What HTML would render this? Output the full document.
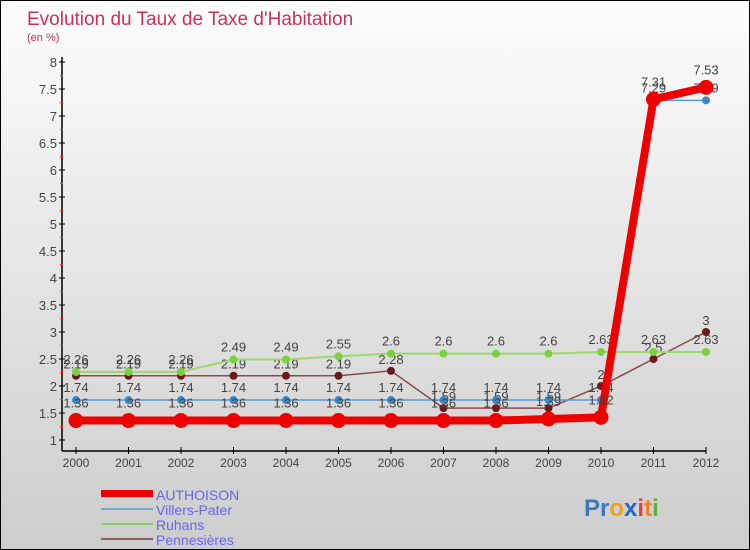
<!DOCTYPE html>
<html><head><meta charset="utf-8"><style>
body{margin:0;}
#wrap{width:750px;height:550px;position:relative;box-sizing:border-box;border:1px solid #000;background:linear-gradient(#fdfdfd,#e2e2e2 55%,#cdcdcd);overflow:hidden;font-family:"Liberation Sans",sans-serif;}
svg text{font-family:"Liberation Sans",sans-serif;}
</style></head><body>
<div id="wrap">
<svg id="c" width="750" height="550">
<text x="26" y="24" font-size="19" fill="#c8325a">Evolution du Taux de Taxe d'Habitation</text>
<text x="26" y="40" font-size="11" fill="#c8325a">(en %)</text>
<g id="axes"></g><g id="series"></g>
<g>
<rect x="100" y="489" width="52" height="7" fill="#ee0000"/>
<text x="155" y="499" font-size="14" fill="#6666ee">AUTHOISON</text>
<line x1="100" y1="508" x2="152" y2="508" stroke="#7aa6cc" stroke-width="2"/>
<text x="155" y="514" font-size="14" fill="#6666ee">Villers-Pater</text>
<line x1="100" y1="523" x2="152" y2="523" stroke="#8ccc66" stroke-width="2"/>
<text x="155" y="529" font-size="14" fill="#6666ee">Ruhans</text>
<line x1="100" y1="538" x2="152" y2="538" stroke="#8a6060" stroke-width="2"/>
<text x="155" y="544" font-size="14" fill="#6666ee">Pennesières</text>
</g>
<text x="583" y="515" font-size="24" font-weight="bold"><tspan fill="#3a7ac0">Pr</tspan><tspan fill="#f0a020">o</tspan><tspan fill="#2266cc">x</tspan><tspan fill="#e04040">i</tspan><tspan fill="#f08020">t</tspan><tspan fill="#60b040">i</tspan></text>
</svg>
<script>
const years=[2000,2001,2002,2003,2004,2005,2006,2007,2008,2009,2010,2011,2012];
const authoison=[1.36,1.36,1.36,1.36,1.36,1.36,1.36,1.36,1.36,1.39,1.42,7.31,7.53];
const villers=[1.74,1.74,1.74,1.74,1.74,1.74,1.74,1.74,1.74,1.74,1.74,7.29,7.29];
const ruhans=[2.26,2.26,2.26,2.49,2.49,2.55,2.6,2.6,2.6,2.6,2.63,2.63,2.63];
const penn=[2.19,2.19,2.19,2.19,2.19,2.19,2.28,1.59,1.59,1.59,2,2.5,3];
const yTicks=[1,1.5,2,2.5,3,3.5,4,4.5,5,5.5,6,6.5,7,7.5,8];
const NS='http://www.w3.org/2000/svg';
function X(i){return 75+i*52.5;}
function Y(v){return 61+(8-v)*54;}
function mk(tag,attrs,parent){const e=document.createElementNS(NS,tag);for(const k in attrs)e.setAttribute(k,attrs[k]);parent.appendChild(e);return e;}
const ax=document.getElementById('axes');
let a=mk('line',{x1:61,y1:56,x2:61,y2:450,stroke:'#000','stroke-width':1.5},ax);


a=mk('line',{x1:61,y1:450,x2:X(12),y2:450,stroke:'#000','stroke-width':1.5},ax);


yTicks.forEach(v=>{
 mk('line',{x1:58,y1:Y(v),x2:64,y2:Y(v),stroke:'#000'},ax);
 if(v<8) mk('line',{x1:59,y1:Y(v)-13.5,x2:62,y2:Y(v)-13.5,stroke:'#f33'},ax);
 const t=mk('text',{x:56,y:Y(v)+5,'font-size':13,fill:'#444','text-anchor':'end'},ax);t.textContent=String(v);
 
 
});
years.forEach((y,i)=>{
 mk('line',{x1:X(i),y1:446,x2:X(i),y2:453,stroke:'#000'},ax);
 const t=mk('text',{x:X(i),y:466,'font-size':12,fill:'#444','text-anchor':'middle'},ax);t.textContent=y;
 
 
});
const sg=document.getElementById('series');
function series(name,vals,color,dot,w,r,lblOff){
 const g=mk('g',{},sg);
 
 
 const p=mk('polyline',{points:vals.map((v,i)=>X(i)+','+Y(v)).join(' '),fill:'none',stroke:color,'stroke-width':w},g);
 
 
 vals.forEach((v,i)=>{
  const c=mk('circle',{cx:X(i),cy:Y(v),r:r,fill:dot},g);
  
  
  const t=mk('text',{x:X(i),y:Y(v)+lblOff,'font-size':13,fill:'#444','text-anchor':'middle'},g);
  t.textContent=String(v);
  
  
 });
}
series('pennesieres',penn,'#8a4a4a','#6a1a1a',1.5,4,-7);
series('ruhans',ruhans,'#9ad870','#7cd040',2,4,-8);
series('villers-pater',villers,'#5a9ad0','#3a88c8',1.5,4,-8);
series('authoison',authoison,'#ee0000','#ee0000',8,7.5,-13);
</script>
</div>
</body></html>
